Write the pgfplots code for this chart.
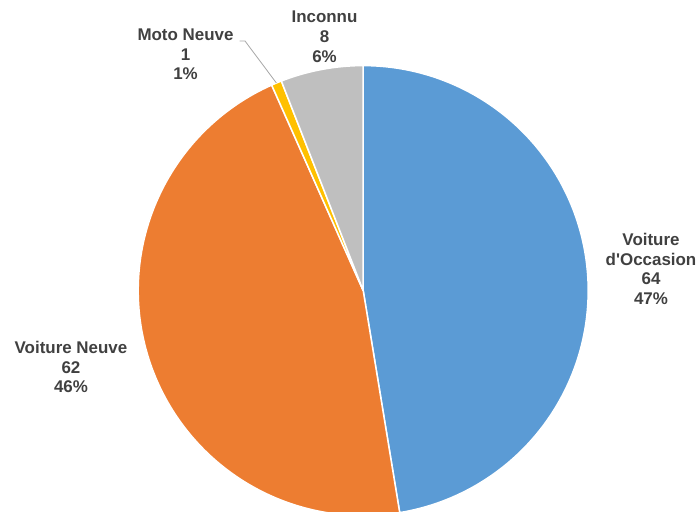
\documentclass[border=0pt]{standalone}
\usepackage{pgfplots}
\usepackage{pgfplotstable}
\pgfplotsset{compat=1.18}
\usepackage{fontspec}
\setmainfont{Liberation Sans}
\newfontfamily\plainfont{Liberation Sans}
\definecolor{cOcc}{HTML}{5B9BD5}
\definecolor{cNeu}{HTML}{ED7D31}
\definecolor{cMoto}{HTML}{FFC000}
\definecolor{cInc}{HTML}{BFBFBF}
\definecolor{txt}{HTML}{404040}
\definecolor{lead}{HTML}{A6A6A6}

\pgfplotstableread{
label value
Occasion 64
Neuve 62
Moto 1
Inconnu 8
}\piedata
\pgfplotstablegetelem{0}{value}\of\piedata \let\vA\pgfplotsretval
\pgfplotstablegetelem{1}{value}\of\piedata \let\vB\pgfplotsretval
\pgfplotstablegetelem{2}{value}\of\piedata \let\vC\pgfplotsretval
\pgfplotstablegetelem{3}{value}\of\piedata \let\vD\pgfplotsretval
\pgfmathsetmacro{\tot}{\vA+\vB+\vC+\vD}
\pgfmathsetmacro{\aA}{0}
\pgfmathsetmacro{\aB}{360*(\vA/\tot)}
\pgfmathsetmacro{\aC}{360*((\vA+\vB)/\tot)}
\pgfmathsetmacro{\aD}{360*((\vA+\vB+\vC)/\tot)}
\pgfmathsetmacro{\aE}{360}
\def\cx{363.2}
\def\cy{221.4}
\def\rr{225}
\newcommand{\pieWedge}[3]{%
  \addplot[fill=#1, draw=white, line width=1.5bp, line join=round, line cap=round,
    variable=\t, domain=0:202, samples=203]
  ({\cx + \rr*(\t>0.5)*(\t<201.5)*sin(#2 + (#3-#2)*min(max(\t-1,0),200)/200)},
   {\cy + \rr*(\t>0.5)*(\t<201.5)*cos(#2 + (#3-#2)*min(max(\t-1,0),200)/200)});
}
\newcommand{\lab}[3]{\node[anchor=base, inner sep=0pt, text=txt, font=\plainfont\fontsize{17}{20}\selectfont\bfseries] at (axis cs:#1,{512-#2}) {#3};}

\begin{document}
\begin{tikzpicture}
\begin{axis}[
  width=698bp, height=512bp, scale only axis,
  xmin=0, xmax=698, ymin=0, ymax=512,
  hide axis, clip=false,
]
\pieWedge{cOcc}{\aA}{\aB}
\pieWedge{cNeu}{\aB}{\aC}
\pieWedge{cMoto}{\aC}{\aD}
\pieWedge{cInc}{\aD}{\aE}
\addplot[lead, line width=0.8bp] coordinates {(239.5,471) (245,471) (276.4,429)};
\lab{651}{245.5}{Voiture}
\lab{651}{265.2}{d'Occasion}
\lab{651}{284.9}{64}
\lab{651}{304.6}{47\%}
\lab{71}{354}{Voiture Neuve}
\lab{71}{373.5}{62}
\lab{71}{393}{46\%}
\lab{185.5}{40.5}{Moto Neuve}
\lab{185.5}{60.2}{1}
\lab{185.5}{80}{1\%}
\lab{324.5}{23}{Inconnu}
\lab{324.5}{42.7}{8}
\lab{324.5}{62.4}{6\%}
\coordinate (BL) at (axis cs:0,0);
\coordinate (TR) at (axis cs:698,512);
\end{axis}
\pgfresetboundingbox
\path[use as bounding box] (BL) rectangle (TR);
\end{tikzpicture}
\end{document}
